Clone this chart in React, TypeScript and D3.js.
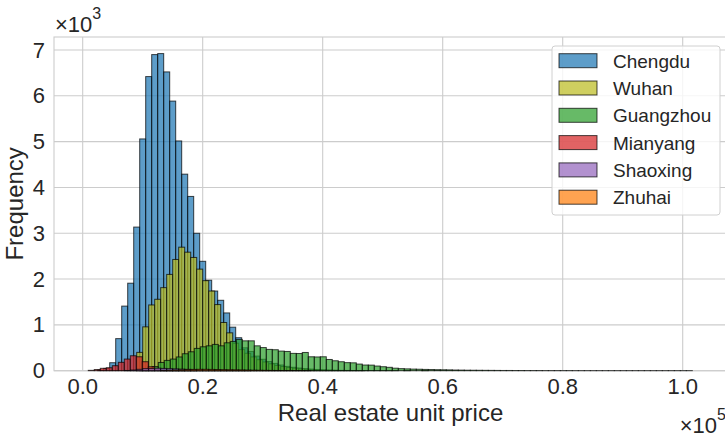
import React from "react";
import * as d3 from "d3";

// histogram bins are 1000 wide, each city has its own first bin edge
const BIN_WIDTH = 1000;

const cities = ["Chengdu", "Wuhan", "Guangzhou", "Mianyang", "Shaoxing", "Zhuhai"];
const colors = ["#1f77b4", "#bcbd22", "#2ca02c", "#d62728", "#9467bd", "#ff7f0e"];
const binStarts = [2500, 9000, 9600, 930, 7000, 13000];

const chengduCounts = [
  15, 50, 174, 700, 1410, 1910, 3135, 5059, 6420, 6900, 6922, 6522, 5885, 5015, 4290, 3804,
  3000, 2388, 1975, 1739, 1537, 1261, 950, 720, 500, 420, 320, 250, 200, 160, 125, 95, 75,
  58, 45, 35, 27, 20, 15, 11, 8, 6, 5, 4, 3, 2, 2, 1, 1, 1, 0, 1, 0, 0, 1,
];
const wuhanCounts = [
  400, 957, 1435, 1559, 1813, 2102, 2428, 2696, 2587, 2472, 2217, 1965, 1739, 1443, 1052,
  826, 600, 460, 380, 300, 240, 190, 150, 115, 90, 70, 55, 40, 30, 22, 16, 11, 8, 5, 3, 2, 1, 1,
];
const guangzhouCounts = [
  15, 40, 90, 180, 225, 254, 300, 370, 413, 487, 522, 543, 574, 543, 609, 639, 683, 652, 652,
  543, 505, 465, 458, 428, 420, 378, 375, 398, 304, 300, 304, 245, 217, 196, 176, 172, 145,
  124, 122, 102, 87, 74, 55, 45, 40, 35, 32, 28, 25, 22, 20, 18, 15, 13, 11, 10, 9, 8, 7, 6,
  5, 5, 4, 4, 3, 3, 3, 2, 2, 2, 2, 2, 1, 1, 1, 1, 1, 1, 1, 1, 1, 1, 1, 1, 1, 1, 1, 1, 1, 1, 1, 1,
];
const mianyangCounts = [8, 25, 52, 65, 109, 183, 254, 326, 304, 196, 87, 35, 20, 12, 8, 5, 3, 1];
const shaoxingCounts = [5, 15, 30, 45, 50, 55, 50, 45, 40, 35, 30, 25, 20, 15, 10, 8, 6, 4, 3, 2, 1];
const zhuhaiCounts = [
  5, 10, 15, 20, 25, 28, 30, 30, 28, 26, 24, 22, 20, 18, 15, 12, 10, 8, 6, 5, 4, 3, 2, 2, 1,
];

const allCounts = [chengduCounts, wuhanCounts, guangzhouCounts, mianyangCounts, shaoxingCounts, zhuhaiCounts];

const xTicks = [0, 20000, 40000, 60000, 80000, 100000];
const yTicks = [0, 1000, 2000, 3000, 4000, 5000, 6000, 7000];

const W = 725;
const H = 435;
const FONT = "'Liberation Sans', Arial, sans-serif";
const TEXT = "#262626";
const ALPHA = 0.72;

const App: React.FC = () => {
  const left = 54;
  const right = 727;
  const top = 37;
  const bottom = 370.7;

  const x = d3.scaleLinear().domain([-4783, 107383]).range([left, right]);
  const y = d3.scaleLinear().domain([0, 7284]).range([bottom, top]);

  const legendX = 552;
  const legendY = 46;

  return (
    <svg
      width={W}
      height={H}
      style={{ position: "absolute", left: 0, top: 0, background: "#fff" }}
      fontFamily={FONT}
    >
      <defs>
        <clipPath id="plot">
          <rect x={left} y={top} width={right - left} height={bottom - top + 1} />
        </clipPath>
      </defs>

      {/* grid */}
      {yTicks.map((t) => (
        <line key={"gy" + t} x1={left} x2={right} y1={y(t)} y2={y(t)} stroke="#cccccc" strokeWidth={1.1} />
      ))}
      {xTicks.map((t) => (
        <line key={"gx" + t} x1={x(t)} x2={x(t)} y1={top} y2={bottom} stroke="#cccccc" strokeWidth={1.1} />
      ))}
      <rect x={left} y={top} width={right - left} height={bottom - top} fill="none" stroke="#cccccc" strokeWidth={1.1} />

      {/* bars, first city at the bottom */}
      <g clipPath="url(#plot)">
        {allCounts.map((counts, ci) => (
          <g key={cities[ci]}>
            {counts.map((c, i) => {
              const x0 = binStarts[ci] + i * BIN_WIDTH;
              return (
                <rect
                  key={i}
                  x={x(x0)}
                  width={x(x0 + BIN_WIDTH) - x(x0)}
                  y={y(c)}
                  height={y(0) - y(c)}
                  fill={colors[ci]}
                  fillOpacity={ALPHA}
                  stroke="#000"
                  strokeOpacity={ALPHA}
                  strokeWidth={1}
                />
              );
            })}
          </g>
        ))}
      </g>

      {/* tick labels */}
      {yTicks.map((t) => (
        <text key={"ty" + t} x={45} y={y(t) + 7.5} textAnchor="end" fontSize={22} fill={TEXT}>
          {t / 1000}
        </text>
      ))}
      {xTicks.map((t) => (
        <text key={"tx" + t} x={x(t)} y={394} textAnchor="middle" fontSize={22} fill={TEXT}>
          {(t / 100000).toFixed(1)}
        </text>
      ))}

      {/* offsets */}
      <text x={55} y={32} fontSize={22} fill={TEXT}>
        ×10
        <tspan fontSize={16} dy={-13}>3</tspan>
      </text>
      <text x={726} y={433} fontSize={22} fill={TEXT} textAnchor="end">
        ×10
        <tspan fontSize={16} dy={-13}>5</tspan>
      </text>

      {/* axis labels */}
      <text x={(left + right) / 2} y={421} textAnchor="middle" fontSize={24} fill={TEXT}>
        Real estate unit price
      </text>
      <text transform={`translate(23,${(top + bottom) / 2}) rotate(-90)`} textAnchor="middle" fontSize={24} fill={TEXT}>
        Frequency
      </text>

      {/* legend */}
      <rect x={legendX} y={legendY} width={168} height={169} rx={3} fill="#fff" fillOpacity={0.8} stroke="#d0d0d0" strokeWidth={1} />
      {cities.map((c, i) => {
        const cy = 60.7 + i * 27.3;
        return (
          <g key={"lg" + c}>
            <rect x={559} y={cy - 7} width={38} height={14} fill={colors[i]} fillOpacity={ALPHA} stroke="#000" strokeOpacity={ALPHA} strokeWidth={1} />
            <text x={613} y={cy + 7} fontSize={19} fill={TEXT}>
              {c}
            </text>
          </g>
        );
      })}
    </svg>
  );
};

export default App;
